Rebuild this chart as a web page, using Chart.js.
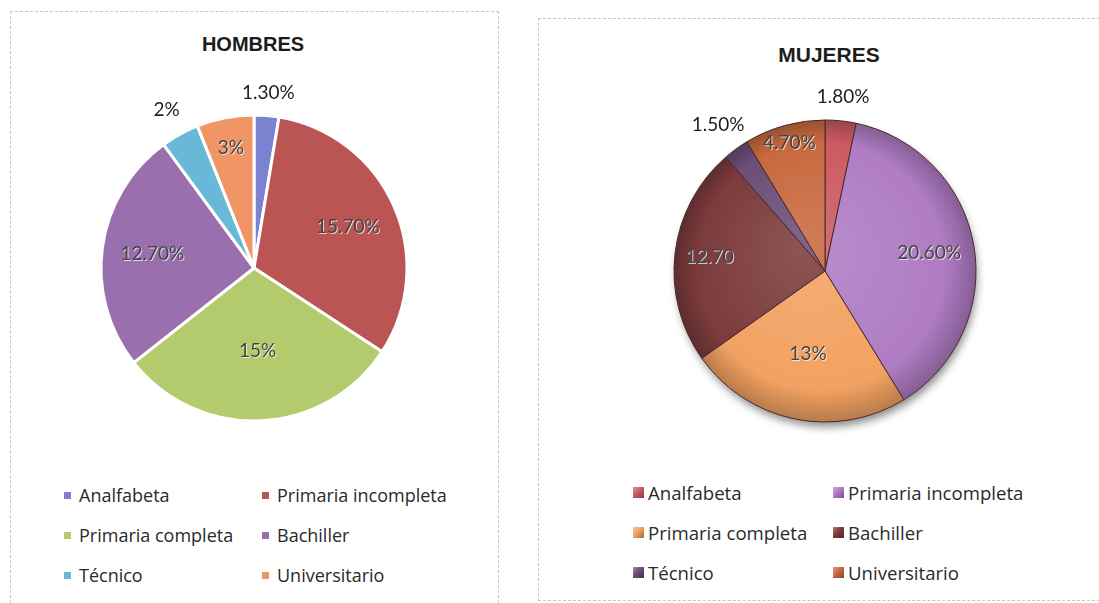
<!DOCTYPE html>
<html>
<head>
<meta charset="utf-8">
<script src="https://cdn.jsdelivr.net/npm/chart.js@4/dist/chart.umd.min.js"></script>
<style>
  html, body { margin: 0; padding: 0; background: #fff; }
  body { width: 1099px; height: 603px; position: relative; overflow: hidden; font-family: "Open Sans", Lato, sans-serif; }
  .box { position: absolute; border: 1px dashed #c6c6c6; }
  #boxH { left: 10px; top: 11px; width: 487px; height: 610px; }
  #boxM { left: 538px; top: 18px; width: 580px; height: 581px; }
  .title { position: absolute; font: bold 20px "Liberation Sans", Arial, sans-serif; color: #1c1c1c; text-align: center; width: 300px; }
  #titleH { left: 103px; top: 33px; }
  #titleM { left: 679px; top: 43px; font-size: 21px; }
  canvas { position: absolute; }
  #chartH { left: 10px; top: 11px; }
  #chartM { left: 538px; top: 18px; }
  .legend { position: absolute; display: grid; grid-template-columns: 198px auto; font-size: 18px; color: #2a2a2a; }
  .legend div { height: 40px; display: flex; align-items: center; white-space: nowrap; }
  .legend span.sw { display: inline-block; flex: none; margin-right: 8px; }
  #legendH { left: 64px; top: 475px; }
  #legendM { left: 633px; top: 472px; grid-template-columns: 200px auto; font-size: 18.6px; }
</style>
</head>
<body>
<div class="box" id="boxH"></div>
<div class="box" id="boxM"></div>
<div class="title" id="titleH">HOMBRES</div>
<div class="title" id="titleM">MUJERES</div>
<canvas id="chartH" width="488" height="430"></canvas>
<canvas id="chartM" width="560" height="440"></canvas>
<div class="legend" id="legendH"></div>
<div class="legend" id="legendM"></div>
<script>
// Nivel educativo
const categories = ['Analfabeta', 'Primaria incompleta', 'Primaria completa', 'Bachiller', 'Técnico', 'Universitario'];

// HOMBRES
const hombresValues = [1.3, 15.7, 15, 12.7, 2, 3];
const hombresText   = ['1.30%', '15.70%', '15%', '12.70%', '2%', '3%'];
const hombresColors = ['#7b82cf', '#bb5553', '#b4cb6d', '#9a6fae', '#68b9d8', '#ef9566'];

// MUJERES
const mujeresValues = [1.8, 20.6, 13, 12.7, 1.5, 4.7];
const mujeresText   = ['1.80%', '20.60%', '13%', '12.70', '1.50%', '4.70%'];
const mujeresColors = ['#cc5a62', '#b07cc4', '#f2a262', '#7c3b3c', '#6c4f78', '#c8693f'];

// label distance from centre, as a fraction of the radius
const hombresLabelPos = [1.15, 0.67, 0.54, 0.67, 1.18, 0.8];
const mujeresLabelPos = [1.16, 0.7, 0.56, 0.77, 1.2, 0.88];

function shade(hex, f) {
  const n = parseInt(hex.slice(1), 16);
  let r = n >> 16, g = (n >> 8) & 255, b = n & 255;
  const t = f < 0 ? 0 : 255, p = Math.abs(f);
  r = Math.round(r + (t - r) * p); g = Math.round(g + (t - g) * p); b = Math.round(b + (t - b) * p);
  return `rgb(${r},${g},${b})`;
}

const sliceLabels = {
  id: 'sliceLabels',
  afterDatasetsDraw(chart, args, opts) {
    const ctx = chart.ctx;
    const meta = chart.getDatasetMeta(0);
    ctx.save();
    ctx.font = '19px Lato, "Open Sans", sans-serif';
    ctx.textAlign = 'center';
    ctx.textBaseline = 'middle';
    meta.data.forEach((arc, i) => {
      const p = arc.getProps(['x', 'y', 'startAngle', 'endAngle', 'outerRadius'], true);
      const mid = (p.startAngle + p.endAngle) / 2;
      const r = p.outerRadius * opts.pos[i];
      const x = p.x + Math.cos(mid) * r;
      const y = p.y + Math.sin(mid) * r;
      const txt = opts.text[i];
      if (opts.pos[i] > 1) {
        ctx.fillStyle = '#1e1e1e';
        ctx.fillText(txt, x, y);
      } else {
        ctx.fillStyle = 'rgba(255,255,255,0.7)';
        ctx.fillText(txt, x + 1, y + 1);
        ctx.fillStyle = '#444';
        ctx.fillText(txt, x, y);
      }
    });
    ctx.restore();
  }
};

const pieShadow = {
  id: 'pieShadow',
  beforeDatasetsDraw(chart, args, opts) {
    if (!opts.enabled) return;
    const arc = chart.getDatasetMeta(0).data[0];
    if (!arc) return;
    const ctx = chart.ctx;
    ctx.save();
    ctx.shadowColor = 'rgba(0,0,0,0.45)';
    ctx.shadowBlur = 9;
    ctx.shadowOffsetX = 2;
    ctx.shadowOffsetY = 6;
    ctx.fillStyle = '#777';
    ctx.beginPath();
    ctx.arc(arc.x, arc.y, arc.outerRadius - 1, 0, Math.PI * 2);
    ctx.fill();
    ctx.restore();
  }
};

function makeLegend(el, colors, bevel) {
  categories.forEach((c, i) => {
    const d = document.createElement('div');
    const sw = document.createElement('span');
    sw.className = 'sw';
    if (bevel) {
      sw.style.width = '11px'; sw.style.height = '11px'; sw.style.marginRight = '4px';
      sw.style.background = `linear-gradient(135deg, ${shade(colors[i], 0.35)}, ${colors[i]} 45%, ${shade(colors[i], -0.35)})`;
    } else {
      sw.style.width = '7px'; sw.style.height = '7px';
      sw.style.background = colors[i];
    }
    d.appendChild(sw);
    d.appendChild(document.createTextNode(c));
    el.appendChild(d);
  });
}

new Chart(document.getElementById('chartH'), {
  type: 'pie',
  data: {
    labels: categories,
    datasets: [{
      data: hombresValues,
      backgroundColor: hombresColors,
      borderColor: '#ffffff',
      borderWidth: 3,
    }],
  },
  options: {
    responsive: false,
    animation: false,
    radius: 153,
    layout: { padding: { left: 0, right: 0, top: 84, bottom: 0 } },
    plugins: {
      legend: { display: false },
      title: { display: false },
      tooltip: { enabled: false },
      sliceLabels: { text: hombresText, pos: hombresLabelPos },
      pieShadow: { enabled: false },
    },
  },
  plugins: [pieShadow, sliceLabels],
});

new Chart(document.getElementById('chartM'), {
  type: 'pie',
  data: {
    labels: categories,
    datasets: [{
      data: mujeresValues,
      backgroundColor: ctx => {
        const c = mujeresColors[ctx.dataIndex];
        const area = ctx.chart.chartArea;
        if (!area) return c;
        const cx = (area.left + area.right) / 2, cy = (area.top + area.bottom) / 2;
        const g = ctx.chart.ctx.createRadialGradient(cx - 20, cy - 25, 10, cx, cy, 152);
        g.addColorStop(0, shade(c, 0.12));
        g.addColorStop(0.8, c);
        g.addColorStop(1, shade(c, -0.25));
        return g;
      },
      borderColor: '#4a2a2c',
      borderWidth: 1,
    }],
  },
  options: {
    responsive: false,
    animation: false,
    radius: 151,
    layout: { padding: { left: 14, right: 0, top: 66, bottom: 0 } },
    plugins: {
      legend: { display: false },
      title: { display: false },
      tooltip: { enabled: false },
      sliceLabels: { text: mujeresText, pos: mujeresLabelPos },
      pieShadow: { enabled: true },
    },
  },
  plugins: [pieShadow, sliceLabels],
});

makeLegend(document.getElementById('legendH'), hombresColors, false);
makeLegend(document.getElementById('legendM'), mujeresColors, true);
</script>
</body>
</html>
